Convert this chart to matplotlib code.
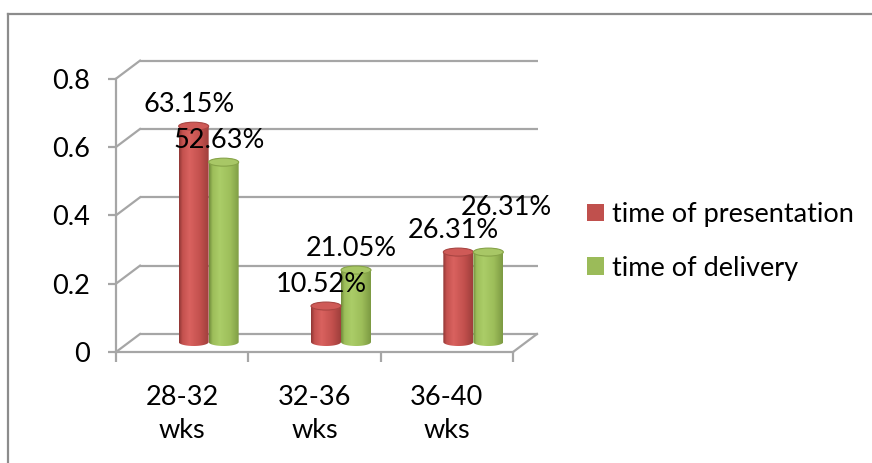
import numpy as np
import matplotlib
matplotlib.use("Agg")
import matplotlib.pyplot as plt
from matplotlib.patches import Ellipse, PathPatch, Patch
from matplotlib.path import Path
from matplotlib.colors import LinearSegmentedColormap
from matplotlib.lines import Line2D

# ---------------- data ----------------
categories = ["28-32\nwks", "32-36\nwks", "36-40\nwks"]
series_names = ["time of presentation", "time of delivery"]
presentation = [0.6315, 0.1052, 0.2631]
delivery = [0.5263, 0.2105, 0.2631]
labels_presentation = ["63.15%", "10.52%", "26.31%"]
labels_delivery = ["52.63%", "21.05%", "26.31%"]
yticks = [0, 0.2, 0.4, 0.6, 0.8]
ytick_labels = ["0", "0.2", "0.4", "0.6", "0.8"]

# ---------------- style ----------------
plt.rcParams['font.family'] = ['Lato', 'DejaVu Sans']
FS = 19.5
RED = "#C0504D"
GREEN = "#9BBB59"
GRID = "#A6A6A6"

W, H = 872, 463
fig = plt.figure(figsize=(W / 100, H / 100), dpi=100)

# front plane of the 3-D box in pixels
x_left, x_right = 116, 513
px_per_unit = 341.7
y_zero = 352
y_top = y_zero - 0.8 * px_per_unit
ax = fig.add_axes([x_left / W, (H - y_zero) / H,
                   (x_right - x_left) / W, (y_zero - y_top) / H])
ax.set_facecolor("none")

ncat = len(categories)
px_per_cat = (x_right - x_left) / ncat
# depth offsets (pixels -> data units)
back_dx, back_dy = 24 / px_per_cat, 18 / px_per_unit
bar_dx, bar_dy = 26.5 / px_per_cat, 10 / px_per_unit
bar_w = 30 / px_per_cat
ell_h = 4 / px_per_unit

# back wall gridlines + side diagonals
for y in yticks:
    ax.plot([back_dx, ncat + back_dx + 0.01], [y + back_dy, y + back_dy],
            color=GRID, lw=1.6, clip_on=False, zorder=1, solid_capstyle='butt')
    ax.plot([0, back_dx], [y, y + back_dy], color=GRID, lw=1.6,
            clip_on=False, zorder=1)
# floor right diagonal
ax.plot([ncat, ncat + back_dx], [0, back_dy], color=GRID, lw=1.6,
        clip_on=False, zorder=1)

# spines / ticks
for s in ["top", "right"]:
    ax.spines[s].set_visible(False)
ax.spines["left"].set_color(GRID)
ax.spines["left"].set_linewidth(1.6)
ax.spines["bottom"].set_color(GRID)
ax.spines["bottom"].set_linewidth(1.6)
ax.set_yticks(yticks)
ax.set_yticklabels(ytick_labels, fontsize=FS)
ax.tick_params(axis='y', direction='out', length=6, width=1.6, color=GRID,
               pad=13)
centers = np.arange(ncat) + 0.5
ax.set_xticks(centers)
ax.set_xticklabels(categories, fontsize=FS, linespacing=1.4)
ax.tick_params(axis='x', which='major', length=0, pad=24)
ax.set_xticks(np.arange(ncat + 1), minor=True)
ax.tick_params(axis='x', which='minor', direction='out', length=7.5,
               width=1.6, color=GRID)


def make_cmap(dark, mid, light, edge):
    return LinearSegmentedColormap.from_list(
        "c", [(0, dark), (0.12, mid), (0.35, light), (0.7, mid), (1, edge)])


cmap_red = make_cmap("#8E3634", "#C4514E", "#D9625F", "#9E3E3B")
cmap_green = make_cmap("#6F8A3A", "#9DBE5A", "#ABCD68", "#7C9A42")


def cylinder(x0, v, cmap, topcolor, edgecolor):
    a = bar_w / 2
    xc = x0 + a
    base = bar_dy
    theta = np.linspace(np.pi, 2 * np.pi, 40)
    verts = [(x0, base + v)]
    verts += [(xc + a * np.cos(t), base + ell_h * np.sin(t)) for t in theta]
    verts += [(x0 + bar_w, base + v), (x0, base + v)]
    codes = [Path.MOVETO] + [Path.LINETO] * (len(verts) - 2) + [Path.CLOSEPOLY]
    patch = PathPatch(Path(verts, codes), facecolor='none', edgecolor='none')
    ax.add_patch(patch)
    grad = np.linspace(0, 1, 256).reshape(1, -1)
    im = ax.imshow(grad, cmap=cmap, extent=[x0, x0 + bar_w, base - ell_h, base + v],
                   aspect='auto', origin='lower', interpolation='bilinear', zorder=3)
    im.set_clip_path(patch)
    ax.add_patch(Ellipse((xc, base + v), bar_w, 2 * ell_h, facecolor=topcolor,
                         edgecolor=edgecolor, lw=0.8, zorder=4))
    return xc, base + v


label_off = (-5, 14)          # px: label baseline relative to bar top
nudge_pres = [(0, 0), (0, 0), (0, 0)]
nudge_deliv = [(0, 0), (0, 0), (23, 23)]

for i in range(ncat):
    xr = i + 0.5 + bar_dx - bar_w
    xg = i + 0.5 + bar_dx
    tr = cylinder(xr, presentation[i], cmap_red, "#CF5A57", "#A84542")
    tg = cylinder(xg, delivery[i], cmap_green, "#A8C766", "#86A348")
    for (xy, txt, nd) in [(tr, labels_presentation[i], nudge_pres[i]),
                          (tg, labels_delivery[i], nudge_deliv[i])]:
        ax.annotate(txt, xy=xy,
                    xytext=((label_off[0] + nd[0]) * 0.72, (label_off[1] + nd[1]) * 0.72),
                    textcoords='offset points', ha='center', va='baseline',
                    fontsize=FS, zorder=6, annotation_clip=False)

ax.set_xlim(0, ncat)
ax.set_ylim(0, 0.8)

# legend
handles = [Patch(facecolor=RED, edgecolor='none'), Patch(facecolor=GREEN, edgecolor='none')]
fig.legend(handles, series_names, loc='center left',
           bbox_to_anchor=(587 / W, 1 - 241.5 / H), frameon=False, fontsize=FS,
           handlelength=0.63, handleheight=0.63, handletextpad=0.28,
           labelspacing=1.06, borderpad=0, borderaxespad=0)

# outer chart-area frame (cropped)
fig.add_artist(Line2D([8 / W, 1], [1 - 13.5 / H, 1 - 13.5 / H],
                      transform=fig.transFigure, color="#8C8C8C", lw=1.6))
fig.add_artist(Line2D([8 / W, 8 / W], [0, 1 - 13.5 / H],
                      transform=fig.transFigure, color="#8C8C8C", lw=1.6))

fig.savefig("out.png", dpi=100)
